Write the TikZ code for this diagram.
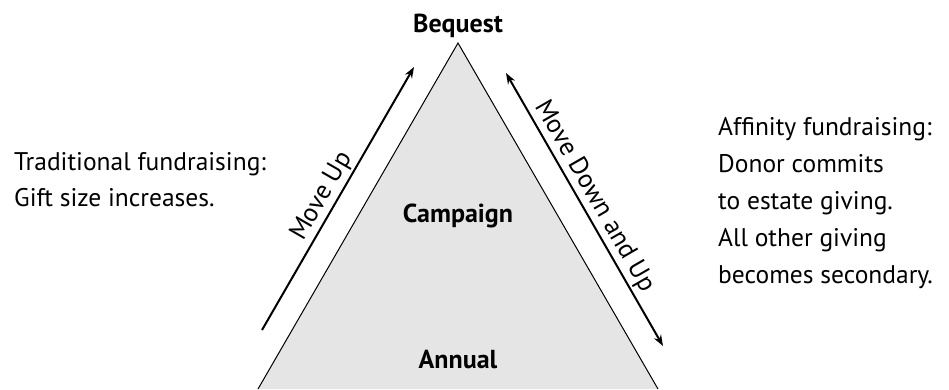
\documentclass[tikz,border=0pt]{standalone}
\usepackage{fontspec}
\setmainfont{PT Sans}
\usetikzlibrary{arrows.meta}
\begin{document}
\begin{tikzpicture}[x=1pt,y=-1pt,
  level/.style={font=\fontsize{26}{30}\selectfont\bfseries, inner sep=0pt, anchor=base},
  note/.style={font=\fontsize{25.5}{37}\selectfont, inner sep=0pt, align=left, anchor=base west},
  movetag/.style={font=\fontsize{26}{30}\selectfont, inner sep=2pt, sloped, anchor=south},
  tip/.style={Stealth[length=11pt,width=8pt]},
  move/.style={line width=2pt, -{Stealth[length=11pt,width=8pt]}},
  movetwo/.style={line width=2pt, {Stealth[length=11pt,width=8pt]}-{Stealth[length=11pt,width=8pt]}}]
\useasboundingbox (0,0) rectangle (949,389);
\fill[white] (0,0) rectangle (949,389);
% pyramid
\coordinate (apex) at (458,43);
\coordinate (baseL) at (258,389);
\coordinate (baseR) at (658,389);
\fill[black!10] (baseL) -- (apex) -- (baseR) -- cycle;
\draw[line width=1pt, line join=miter] (baseL) -- (apex) -- (baseR);
% level labels
\node[level] (bequest) at (458,32) {Bequest};
\node[level] (campaign) at (458,222) {Campaign};
\node[level] (annual) at (458,368) {Annual};
% movement arrows with their captions
\coordinate (upS) at (262,330);
\coordinate (upE) at (414,67);
\coordinate (dnS) at (506,73);
\coordinate (dnE) at (663,346);
\draw[move] (upS) -- node[movetag, pos=0.48] (moveup) {Move Up} (upE);
\draw[movetwo] (dnS) -- node[movetag, pos=0.48] (movedown) {Move Down and Up} (dnE);
% side notes (anchored at the baseline of their last line)
\node[note, font=\fontsize{25.5}{36}\selectfont] (traditional) at (14,206) {Traditional fundraising:\\Gift size increases.};
\node[note] (affinity) at (718,283) {Affinity fundraising:\\Donor commits\\to estate giving.\\All other giving\\becomes secondary.};
\end{tikzpicture}
\end{document}
